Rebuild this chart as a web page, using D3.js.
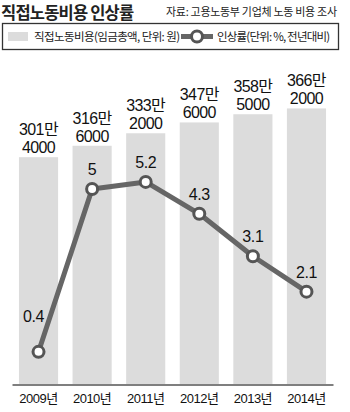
<!DOCTYPE html>
<html><head><meta charset="utf-8">
<script src="https://cdn.jsdelivr.net/npm/d3@7"></script>
<style>
html,body{margin:0;padding:0;background:#fff;}
svg{display:block;font-family:"Liberation Sans","Noto Sans CJK KR",sans-serif;}
</style></head>
<body><svg id="c" width="350" height="412"></svg>
<script>
const years = ["2009년","2010년","2011년","2012년","2013년","2014년"];
const laborCost = [3014000, 3166000, 3332000, 3476000, 3585000, 3662000];
const growthRate = [0.4, 5, 5.2, 4.3, 3.1, 2.1];
const titleText = "직접노동비용 인상률";
const sourceText = "자료: 고용노동부 기업체 노동 비용 조사";
const legendBarText = "직접노동비용(임금총액, 단위: 원)";
const legendLineText = "인상률(단위: %, 전년대비)";

const svg = d3.select("#c");
const x = d3.scaleBand().domain(years).range([12, 333]).paddingInner(0.27).paddingOuter(0.13);
const yBar = d3.scaleLinear().domain([0, 4000000]).range([384, 83]);
const yLine = d3.scaleLinear().domain([0, 10]).range([366, 12]);

// title
svg.append("text").attr("x", 1).attr("y", 18.5).attr("font-family", "Noto Sans CJK KR")
  .attr("font-weight", "bold").attr("font-size", 16.5).attr("letter-spacing", -0.8).attr("fill", "#222")
  .text(titleText);
svg.append("text").attr("x", 166).attr("y", 15.5).attr("font-family", "Noto Sans CJK KR")
  .attr("font-size", 11).attr("letter-spacing", -0.3).attr("fill", "#222").text(sourceText);

// legend
svg.append("rect").attr("x", 2.5).attr("y", 23.5).attr("width", 336).attr("height", 26)
  .attr("fill", "none").attr("stroke", "#333").attr("stroke-width", 1.3);
svg.append("rect").attr("x", 8).attr("y", 32).attr("width", 20).attr("height", 9).attr("fill", "#dcdcdc");
svg.append("text").attr("x", 34).attr("y", 41).attr("font-family", "Noto Sans CJK KR")
  .attr("font-size", 11.5).attr("letter-spacing", -0.6).attr("fill", "#222").text(legendBarText);
svg.append("line").attr("x1", 181).attr("x2", 213).attr("y1", 36.5).attr("y2", 36.5)
  .attr("stroke", "#666").attr("stroke-width", 5);
svg.append("circle").attr("cx", 197).attr("cy", 36.5).attr("r", 5.5)
  .attr("fill", "#fff").attr("stroke", "#555").attr("stroke-width", 3);
svg.append("text").attr("x", 217).attr("y", 41).attr("font-family", "Noto Sans CJK KR")
  .attr("font-size", 11.5).attr("letter-spacing", -0.8).attr("fill", "#222").text(legendLineText);

// bars
svg.selectAll("rect.bar").data(laborCost).join("rect").attr("class", "bar")
  .attr("x", (d, i) => x(years[i])).attr("width", x.bandwidth())
  .attr("y", d => yBar(d)).attr("height", d => yBar(0) - yBar(d)).attr("fill", "#dcdcdc");

// bar labels
const bl = svg.selectAll("g.bl").data(laborCost).join("g").attr("class", "bl");
bl.append("text").attr("x", (d, i) => x(years[i]) + x.bandwidth() / 2).attr("y", d => yBar(d) - 22)
  .attr("text-anchor", "middle").attr("font-size", 16).attr("letter-spacing", -0.6).attr("fill", "#111")
  .text(d => Math.floor(d / 10000) + "만");
bl.append("text").attr("x", (d, i) => x(years[i]) + x.bandwidth() / 2).attr("y", d => yBar(d) - 4)
  .attr("text-anchor", "middle").attr("font-size", 16).attr("letter-spacing", -0.6).attr("fill", "#111")
  .text(d => String(d % 10000).padStart(4, "0"));

// axis
const axis = svg.append("g").attr("transform", "translate(0,384.5)")
  .call(d3.axisBottom(x).tickSize(0).tickPadding(9));
axis.select(".domain").attr("stroke", "#555").attr("stroke-width", 1.6);
axis.selectAll("text").attr("font-size", 13).attr("letter-spacing", -0.5).attr("fill", "#111")
  .attr("font-family", "Liberation Sans, Noto Sans CJK KR");

// line
const cx = (d, i) => x(years[i]) + x.bandwidth() / 2;
const line = d3.line().x(cx).y(d => yLine(d));
svg.append("path").datum(growthRate).attr("d", line).attr("fill", "none")
  .attr("stroke", "#666").attr("stroke-width", 5).attr("stroke-linejoin", "round");
svg.selectAll("circle.pt").data(growthRate).join("circle").attr("class", "pt")
  .attr("cx", cx).attr("cy", d => yLine(d)).attr("r", 5.5)
  .attr("fill", "#fff").attr("stroke", "#555").attr("stroke-width", 3);
svg.selectAll("text.pl").data(growthRate).join("text").attr("class", "pl")
  .attr("x", (d, i) => cx(d, i) + (i === 0 ? -5 : 0))
  .attr("y", (d, i) => yLine(d) - (i === 0 ? 30 : 14))
  .attr("text-anchor", "middle").attr("font-size", 16).attr("letter-spacing", -0.4).attr("fill", "#111")
  .text(d => d);
</script></body></html>
